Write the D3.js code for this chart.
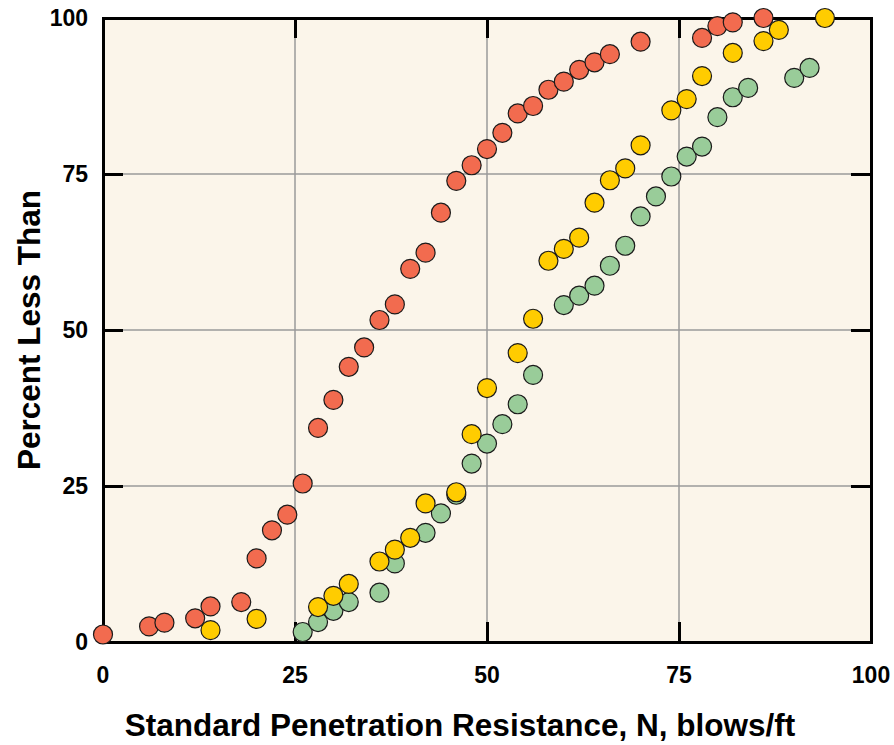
<!DOCTYPE html>
<html><head><meta charset="utf-8">
<script src="https://cdn.jsdelivr.net/npm/d3@7"></script>
<style>html,body{margin:0;padding:0;background:#fff;} text{font-family:"Liberation Sans",Arial,Helvetica,sans-serif;font-weight:bold;fill:#000;}</style>
</head><body>
<svg id="chart" width="894" height="745"></svg>
<script>
const xTicks = [0, 25, 50, 75, 100];
const yTicks = [0, 25, 50, 75, 100];
const xTitle = "Standard Penetration Resistance, N, blows/ft";
const yTitle = "Percent Less Than";

const redN   = [0,6,8,12,14,18,20,22,24,26,28,30,32,34,36,38,40,42,44,46,48,50,52,54,56,58,60,62,64,66,70,78,80,82,86];
const redPct = [1.2,2.5,3.1,3.8,5.7,6.4,13.4,17.9,20.4,25.4,34.3,38.8,44.1,47.2,51.6,54.1,59.8,62.4,68.8,73.9,76.4,79.0,81.6,84.7,85.9,88.5,89.8,91.7,92.9,94.2,96.2,96.8,98.7,99.3,100];

const greenN   = [26,28,30,32,36,38,42,44,46,48,50,52,54,56,60,62,64,66,68,70,72,74,76,78,80,82,84,90,92];
const greenPct = [1.6,3.2,5.0,6.4,7.9,12.6,17.5,20.6,23.6,28.6,31.8,34.9,38.1,42.8,54.0,55.5,57.1,60.3,63.5,68.2,71.4,74.6,77.8,79.4,84.1,87.3,88.8,90.4,92.0];

const yellowN   = [14,20,28,30,32,36,38,40,42,46,48,50,54,56,58,60,62,64,66,68,70,74,76,78,82,86,88,94];
const yellowPct = [1.9,3.7,5.6,7.4,9.3,12.9,14.8,16.7,22.2,24.0,33.3,40.7,46.3,51.8,61.1,63.0,64.8,70.4,74.0,75.9,79.6,85.2,87.0,90.7,94.4,96.3,98.1,100];

const seriesColors = {red:"#F26B4F", green:"#99CC99", yellow:"#FFCC00"};

const svg = d3.select("#chart");
const L = 103, R = 871, T = 18, B = 642;
const x = d3.scaleLinear().domain([0,100]).range([L,R]);
const y = d3.scaleLinear().domain([0,100]).range([B,T]);

svg.append("rect").attr("x",L).attr("y",T).attr("width",R-L).attr("height",B-T).attr("fill","#FBF5EA");

// gridlines
const g = svg.append("g");
g.selectAll("line.gx").data(xTicks.filter(d=>d>0&&d<100)).join("line")
  .attr("x1",d=>x(d)).attr("x2",d=>x(d)).attr("y1",T).attr("y2",B)
  .attr("stroke","#9a9a9a").attr("stroke-width",1.5);
g.selectAll("line.gy").data(yTicks.filter(d=>d>0&&d<100)).join("line")
  .attr("y1",d=>y(d)).attr("y2",d=>y(d)).attr("x1",L).attr("x2",R)
  .attr("stroke","#9a9a9a").attr("stroke-width",1.5);

// axes with inner ticks
const tk = 20;
const axB = d3.axisBottom(x).tickValues(xTicks).tickSize(-tk).tickFormat("");
const axT = d3.axisTop(x).tickValues(xTicks).tickSize(-tk).tickFormat("");
const axL = d3.axisLeft(y).tickValues(yTicks).tickSize(-tk).tickFormat("");
const axR = d3.axisRight(y).tickValues(yTicks).tickSize(-tk).tickFormat("");
[[axB,`translate(0,${B})`],[axT,`translate(0,${T})`],[axL,`translate(${L},0)`],[axR,`translate(${R},0)`]].forEach(([a,t])=>{
  const gg = svg.append("g").attr("transform",t).call(a);
  gg.select(".domain").attr("stroke","#000").attr("stroke-width",3);
  gg.selectAll(".tick line").attr("stroke","#000").attr("stroke-width",3);
});

// tick labels
svg.append("g").selectAll("text").data(xTicks).join("text")
  .attr("x",d=>x(d)).attr("y",B+41).attr("text-anchor","middle")
  .attr("font-size",23).text(d=>d);
svg.append("g").selectAll("text").data(yTicks).join("text")
  .attr("x",L-15).attr("y",d=>y(d)+8).attr("text-anchor","end")
  .attr("font-size",23).text(d=>d);

// titles
svg.append("text").attr("x",460).attr("y",736).attr("text-anchor","middle")
  .attr("font-size",31.5).text(xTitle);
svg.append("text").attr("transform",`translate(40,${(T+B)/2}) rotate(-90)`)
  .attr("text-anchor","middle").attr("font-size",31.5).text(yTitle);

// points
function drawSeries(ns, ps, color){
  svg.append("g").selectAll("circle").data(ns.map((n,i)=>[n,ps[i]])).join("circle")
    .attr("cx",d=>x(d[0])).attr("cy",d=>y(d[1])).attr("r",9.5)
    .attr("fill",color).attr("stroke","#1a1a1a").attr("stroke-width",1.2);
}
drawSeries(redN, redPct, seriesColors.red);
drawSeries(greenN, greenPct, seriesColors.green);
drawSeries(yellowN, yellowPct, seriesColors.yellow);
</script>
</body></html>
